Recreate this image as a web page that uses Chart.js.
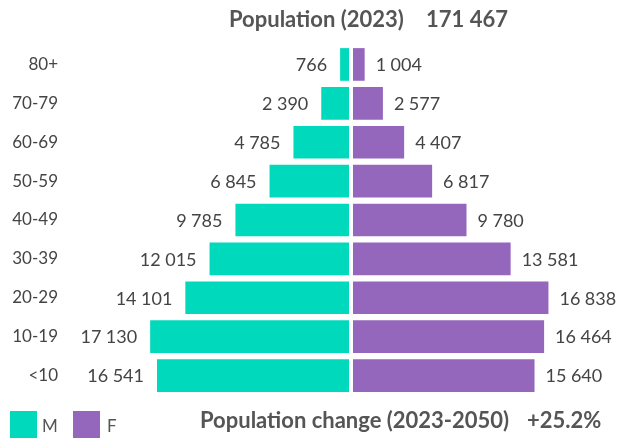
<!DOCTYPE html>
<html>
<head>
<meta charset="utf-8">
<script src="https://cdn.jsdelivr.net/npm/chart.js@4"></script>
<style>
  html, body { margin: 0; padding: 0; background: #fff; }
  #wrap { position: relative; width: 629px; height: 438px; overflow: hidden; font-family: Lato, "Open Sans", sans-serif; }
  #chart { position: absolute; left: 0; top: 0; }
  .txt { position: absolute; white-space: nowrap; line-height: 1; }
  .head { font-size: 22px; font-weight: bold; color: #555; }
  .sw { position: absolute; width: 27px; height: 27px; }
  .lg { font-size: 17px; color: #555; }
</style>
</head>
<body>
<div id="wrap">
  <canvas id="chart" width="629" height="438"></canvas>
  <div class="txt head" style="left:229px; top:8px;">Population (2023)</div>
  <div class="txt head" style="left:426px; top:8px;">171 467</div>
  <div class="sw" style="left:10px; top:411px; background:#00D9BB;"></div>
  <div class="txt lg" style="left:42px; top:417px;">M</div>
  <div class="sw" style="left:73px; top:411px; background:#9467BD;"></div>
  <div class="txt lg" style="left:107px; top:417px;">F</div>
  <div class="txt head" style="left:200px; top:409px;">Population change (2023-2050)</div>
  <div class="txt head" style="left:527px; top:409px;">+25.2%</div>
</div>
<script>
const ageGroups = ["80+", "70-79", "60-69", "50-59", "40-49", "30-39", "20-29", "10-19", "<10"];
const maleValues = [766, 2390, 4785, 6845, 9785, 12015, 14101, 17130, 16541];
const femaleValues = [1004, 2577, 4407, 6817, 9780, 13581, 16838, 16464, 15640];

const maleColor = "#00D9BB";
const femaleColor = "#9467BD";
const gap = 172; // half of the white gap in the middle, in data units
const axisMax = 23950;

function fmt(v) {
    return String(v).replace(/\B(?=(\d{3})+(?!\d))/g, "\u202f");
}

// numbers next to the bars
const valueLabels = {
    id: "valueLabels",
    afterDatasetsDraw(chart) {
        let ctx = chart.ctx;
        ctx.save();
        ctx.font = "18px Lato, 'Open Sans', sans-serif";
        ctx.fillStyle = "#444";
        ctx.textBaseline = "middle";
        chart.getDatasetMeta(0).data.forEach((bar, i) => {
            ctx.textAlign = "right";
            ctx.fillText(fmt(maleValues[i]), Math.min(bar.x, bar.base) - 13, bar.y + 1);
        });
        chart.getDatasetMeta(1).data.forEach((bar, i) => {
            ctx.textAlign = "left";
            ctx.fillText(fmt(femaleValues[i]), Math.max(bar.x, bar.base) + 11, bar.y + 1);
        });
        ctx.restore();
    }
};

new Chart(document.getElementById("chart").getContext("2d"), {
    type: "bar",
    data: {
        labels: ageGroups,
        datasets: [
            {
                label: "M",
                data: maleValues.map(v => [-(v + gap), -gap]),
                backgroundColor: maleColor
            },
            {
                label: "F",
                data: femaleValues.map(v => [gap, v + gap]),
                backgroundColor: femaleColor
            }
        ]
    },
    options: {
        indexAxis: "y",
        responsive: false,
        animation: false,
        grouped: false,
        barPercentage: 0.84,
        categoryPercentage: 1,
        layout: { padding: { top: 45, bottom: 43, left: 0, right: 0 } },
        scales: {
            x: {
                display: false,
                min: -axisMax,
                max: axisMax
            },
            y: {
                grid: { display: false, drawTicks: false },
                border: { display: false },
                ticks: {
                    color: "#444",
                    padding: 15,
                    font: { family: "Lato, 'Open Sans', sans-serif", size: 17 }
                },
                afterFit: function (scale) { scale.width = 73; }
            }
        },
        plugins: {
            legend: { display: false },
            tooltip: { enabled: false }
        }
    },
    plugins: [valueLabels]
});
</script>
</body>
</html>
